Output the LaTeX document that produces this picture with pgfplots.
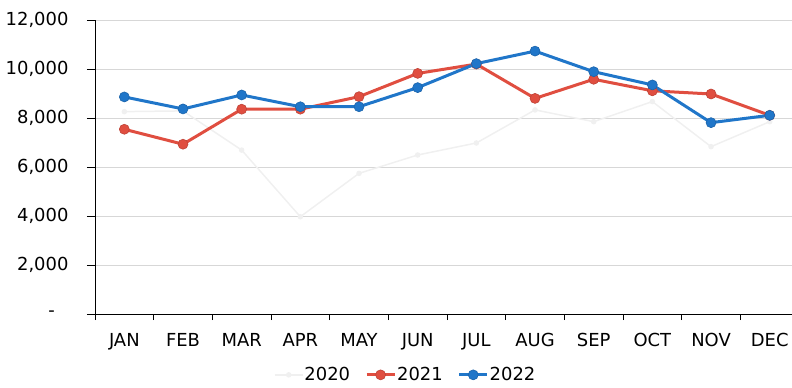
\documentclass[border=0pt]{standalone}
\usepackage{pgfplots}
\pgfplotsset{compat=1.18}
\usepackage{fontspec}
\setmainfont{DejaVu Sans}
\definecolor{cred}{RGB}{224,78,64}
\definecolor{cblue}{RGB}{32,118,201}
\definecolor{cfaint}{RGB}{240,240,240}
\definecolor{cgrid}{RGB}{215,215,215}
\begin{document}
\begin{tikzpicture}
\useasboundingbox (-95bp,-74bp) rectangle (697bp,314bp);
\begin{axis}[
  scale only axis,
  width=697bp, height=294bp,
  xmin=-0.5, xmax=11.38,
  ymin=0, ymax=12000,
  scaled y ticks=false,
  axis x line=bottom, axis y line=left,
  axis line style={-, black, line width=0.8bp},
  xtick={0,...,11},
  xticklabels={JAN,FEB,MAR,APR,MAY,JUN,JUL,AUG,SEP,OCT,NOV,DEC},
  minor xtick={-0.5,0.5,...,10.5},
  ytick={0,2000,...,12000},
  yticklabels={{\makebox[20bp][l]{-}},{2,000},{4,000},{6,000},{8,000},{10,000},{12,000}},
  tick align=outside,
  major x tick style={draw=none},
  minor x tick style={black, line width=0.8bp},
  minor tick length=6bp,
  major tick length=8bp,
  ytick style={black, line width=0.8bp},
  ymajorgrids,
  grid style={cgrid, line width=0.8bp},
  ticklabel style={font=\fontsize{18}{20}\selectfont, text=black},
  xticklabel style={yshift=-8bp},
  yticklabel style={xshift=-15bp},
  legend style={at={(0.445,-0.207)}, anchor=center, draw=none, fill=none,
    legend columns=3, font=\fontsize{18}{20}\selectfont,
    /tikz/every even column/.append style={column sep=14bp},
    nodes={inner xsep=1bp}},
  legend image code/.code={
    \draw[#1, mark repeat=2, mark phase=2] plot coordinates {(0bp,0bp) (14bp,0bp) (28bp,0bp)};},
]
\addplot[cfaint, line width=1.5bp, mark=*, mark size=2bp, mark options={fill=cfaint, draw=cfaint}] coordinates {
(0,8260) (1,8290) (2,6690) (3,3970) (4,5740) (5,6490) (6,6980) (7,8330) (8,7850) (9,8670) (10,6830) (11,7850)};
\addlegendentry{2020}
\addplot[cred, line width=3bp, mark=*, mark size=5bp, mark options={fill=cred, draw=cred!85!black, line width=0.6bp}] coordinates {
(0,7540) (1,6930) (2,8360) (3,8360) (4,8870) (5,9820) (6,10200) (7,8800) (8,9580) (9,9110) (10,8980) (11,8110)};
\addlegendentry{2021}
\addplot[cblue, line width=3bp, mark=*, mark size=5bp, mark options={fill=cblue, draw=cblue!85!black, line width=0.6bp}] coordinates {
(0,8860) (1,8370) (2,8940) (3,8460) (4,8460) (5,9240) (6,10220) (7,10730) (8,9890) (9,9350) (10,7810) (11,8110)};
\addlegendentry{2022}
\end{axis}
\end{tikzpicture}
\end{document}
